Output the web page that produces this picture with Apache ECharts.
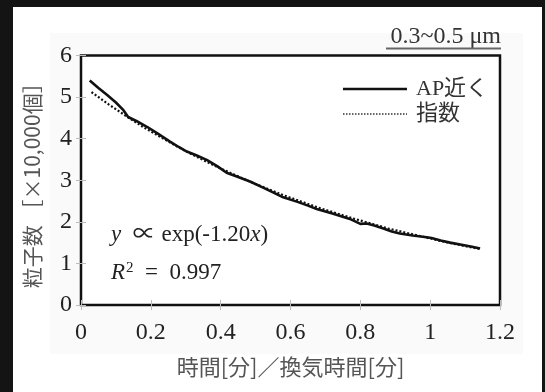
<!DOCTYPE html>
<html><head><meta charset="utf-8">
<script src="https://cdn.jsdelivr.net/npm/echarts@6/dist/echarts.min.js"></script>
<style>html,body{margin:0;padding:0;background:#141414}#c{width:545px;height:392px}</style>
</head><body><div id="c"></div>
<script>
// measured series "AP近く"
const apX = [0.025,0.05,0.075,0.10,0.12,0.135,0.16,0.19,0.22,0.255,0.28,0.303,0.33,0.36,0.39,0.417,0.45,0.484,0.52,0.55,0.579,0.62,0.65,0.675,0.72,0.77,0.80,0.818,0.84,0.866,0.89,0.913,0.95,0.99,1.004,1.03,1.057,1.09,1.12,1.143];
const apY = [5.40,5.22,5.05,4.87,4.70,4.52,4.42,4.28,4.12,3.93,3.80,3.69,3.60,3.49,3.34,3.18,3.08,2.97,2.83,2.71,2.59,2.48,2.39,2.31,2.20,2.07,1.95,1.96,1.91,1.84,1.77,1.72,1.67,1.63,1.61,1.55,1.50,1.45,1.40,1.36];
// fitted series "指数"
const fitX = [0.03,0.08,0.13,0.18,0.23,0.28,0.33,0.38,0.43,0.48,0.53,0.58,0.63,0.68,0.73,0.78,0.83,0.88,0.93,0.98,1.03,1.08,1.14];
const fitY = [5.12,4.82,4.54,4.27,4.03,3.79,3.57,3.36,3.17,2.98,2.81,2.64,2.49,2.34,2.21,2.08,1.96,1.84,1.74,1.64,1.54,1.45,1.35];
const xTicks = [0,0.2,0.4,0.6,0.8,1,1.2];
const yTicks = [0,1,2,3,4,5,6];
const seriesNames = ['AP近く','指数'];

const serif = '"Liberation Serif","Noto Sans CJK JP",serif';
const chart = echarts.init(document.getElementById('c'));
const tick = {show:true, inside:true, length:5, lineStyle:{color:'#bbb', width:1}};
chart.setOption({
  backgroundColor:'#141414',
  animation:false,
  graphic:[
    {type:'rect', z:-10, shape:{x:13,y:7,width:529,height:385}, style:{fill:'#ffffff'}},
    {type:'rect', z:-9, shape:{x:50,y:33,width:473,height:321}, style:{fill:'#fafafa'}},
    {type:'text', z:10, x:501, y:37, style:{text:'0.3~0.5 μm', fontSize:24, fontFamily:serif, fill:'#333', align:'right', verticalAlign:'middle'}},
    {type:'line', z:10, shape:{x1:386,y1:48.5,x2:501,y2:48.5}, style:{stroke:'#666', lineWidth:2}},
    // legend
    {type:'line', z:10, shape:{x1:343,y1:89,x2:407,y2:89}, style:{stroke:'#111', lineWidth:2.6}},
    {type:'text', z:10, x:416, y:89, style:{text:seriesNames[0], fontSize:22, fontFamily:serif, fill:'#333', verticalAlign:'middle'}},
    {type:'line', z:10, shape:{x1:343,y1:114,x2:407,y2:114}, style:{stroke:'#333', lineWidth:1.5, lineDash:[1.5,1.5]}},
    {type:'text', z:10, x:416, y:114, style:{text:seriesNames[1], fontSize:22, fontFamily:serif, fill:'#333', verticalAlign:'middle'}},
    // annotations
    {type:'text', z:10, x:111, y:235, style:{
      text:'{i|y}  ∝ exp(-1.20{i|x})',
      fontSize:23, fontFamily:serif, fill:'#222', verticalAlign:'middle',
      rich:{i:{fontStyle:'italic', fontSize:23, fontFamily:serif}}
    }},
    {type:'text', z:10, x:111, y:273, style:{
      text:'{i|R}{s|2}  =  0.997',
      fontSize:23, fontFamily:serif, fill:'#222', verticalAlign:'middle',
      rich:{i:{fontStyle:'italic', fontSize:23, fontFamily:serif}, s:{fontSize:15, fontFamily:serif, verticalAlign:'top', padding:[0,0,9,1]}}
    }}
  ],
  grid:{left:81, right:45, top:55.5, bottom:87, show:true, borderColor:'#111', borderWidth:2.5, backgroundColor:'#fff'},
  xAxis:[{
    type:'value', min:0, max:1.2, interval:0.2,
    axisLine:{show:false}, axisTick:tick, splitLine:{show:false},
    axisLabel:{fontFamily:serif, fontSize:24, color:'#222', margin:16,
      formatter:v=>{const t=xTicks.find(k=>Math.abs(k-v)<1e-9); return t===undefined?'':String(t);}},
    name:'時間[分]／換気時間[分]', nameLocation:'middle', nameGap:51,
    nameTextStyle:{fontFamily:'"Noto Sans CJK JP"', fontSize:22, color:'#555'}
  },{
    type:'value', position:'top', min:0, max:1.2, interval:0.2,
    axisLine:{show:false}, axisTick:tick, axisLabel:{show:false}, splitLine:{show:false}
  }],
  yAxis:[{
    type:'value', min:0, max:6, interval:1,
    axisLine:{show:false}, axisTick:tick, splitLine:{show:false},
    axisLabel:{fontFamily:serif, fontSize:24, color:'#222', margin:9,
      formatter:v=>{const t=yTicks.find(k=>Math.abs(k-v)<1e-9); return t===undefined?'':String(t);}},
    name:'粒子数 ［×10,000個］', nameLocation:'middle', nameGap:38, nameRotate:90,
    nameTextStyle:{fontFamily:'"Noto Sans CJK JP"', fontSize:21, color:'#555'}
  },{
    type:'value', position:'right', min:0, max:6, interval:1,
    axisLine:{show:false}, axisTick:tick, axisLabel:{show:false}, splitLine:{show:false}
  }],
  series:[
    {name:seriesNames[1], type:'line', symbol:'none', z:3,
     data:fitX.map((x,i)=>[x,fitY[i]]),
     lineStyle:{color:'#111', width:2.2, type:[2,2]}},
    {name:seriesNames[0], type:'line', symbol:'none', z:4,
     data:apX.map((x,i)=>[x,apY[i]]),
     lineStyle:{color:'#111', width:2.6}}
  ]
});
</script></body></html>
